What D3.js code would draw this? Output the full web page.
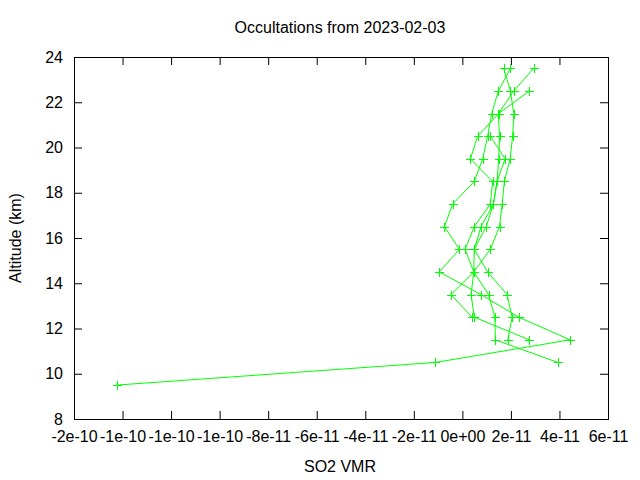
<!DOCTYPE html>
<html lang="en">
<head>
<meta charset="UTF-8">
<title>Occultations</title>
<style>
  body { margin: 0; background: #fff; }
  svg text { font-family: "Liberation Sans", Arial, sans-serif; font-size: 16px; fill: #000; }
</style>
</head>
<body>
<div id="chart"></div>
<script src="https://d3js.org/d3.v7.min.js"></script>
<script>
// altitude levels (km) shared by all profiles
const altitudes = [9.5, 10.5, 11.5, 12.5, 13.5, 14.5, 15.5, 16.5, 17.5, 18.5, 19.5, 20.5, 21.5, 22.5, 23.5];

// SO2 VMR per occultation, null where the profile has no point
const profile1 = [-14.23e-11, -1.11e-11, 4.44e-11, 2.32e-11, 0.77e-11, -0.95e-11, -0.12e-11, -0.74e-11, -0.40e-11, 0.49e-11, 0.84e-11, 1.04e-11, 1.21e-11, 1.48e-11, 1.98e-11];
const profile2 = [null, 3.93e-11, 1.36e-11, 1.34e-11, 1.08e-11, 0.47e-11, 0.11e-11, 0.49e-11, 1.15e-11, 1.25e-11, 0.33e-11, 0.63e-11, 1.50e-11, 2.76e-11, null];
const profile3 = [null, null, null, 0.40e-11, -0.47e-11, 0.47e-11, 0.49e-11, 0.77e-11, 1.28e-11, 1.43e-11, 1.76e-11, 1.15e-11, null, null, null];
const profile4 = [null, null, 2.76e-11, 0.49e-11, 0.36e-11, 0.47e-11, 1.15e-11, 1.53e-11, 1.64e-11, 1.73e-11, 1.97e-11, 2.07e-11, 2.12e-11, 1.98e-11, 1.70e-11];
const profile5 = [null, null, 1.87e-11, 2.05e-11, 1.84e-11, 1.04e-11, 0.49e-11, 0.98e-11, 1.28e-11, 1.43e-11, 1.50e-11, 1.53e-11, 1.48e-11, 2.12e-11, 2.94e-11];
const profiles = [profile1, profile2, profile3, profile4, profile5];

// axes
const xTicks = [-16e-11, -14e-11, -12e-11, -10e-11, -8e-11, -6e-11, -4e-11, -2e-11, 0, 2e-11, 4e-11, 6e-11];
const xTickLabels = ["-2e-10", "-1e-10", "-1e-10", "-1e-10", "-8e-11", "-6e-11", "-4e-11", "-2e-11", "0e+00", "2e-11", "4e-11", "6e-11"];
const yTicks = [8, 10, 12, 14, 16, 18, 20, 22, 24];

const w = 640, h = 480;
const plotLeft = 74, plotRight = 608, plotTop = 57, plotBottom = 419;
const lineColor = "#00ff00";

const svg = d3.select("#chart").append("svg")
  .attr("width", w)
  .attr("height", h);

const xScale = d3.scaleLinear().domain([-16e-11, 6e-11]).range([plotLeft, plotRight]);
const yScale = d3.scaleLinear().domain([8, 24]).range([plotBottom, plotTop]);

// bottom axis with labels, ticks pointing in
const xAxis = d3.axisBottom(xScale)
  .tickValues(xTicks)
  .tickFormat((d, i) => xTickLabels[i])
  .tickSizeInner(-8).tickSizeOuter(0).tickPadding(12);
svg.append("g").attr("transform", "translate(0," + plotBottom + ")").call(xAxis);

// mirrored ticks on top
svg.append("g").attr("transform", "translate(0," + plotTop + ")")
  .call(d3.axisTop(xScale).tickValues(xTicks).tickFormat("").tickSizeInner(-8).tickSizeOuter(0));

const yAxis = d3.axisLeft(yScale)
  .tickValues(yTicks)
  .tickSizeInner(-8).tickSizeOuter(0).tickPadding(11);
svg.append("g").attr("transform", "translate(" + plotLeft + ",0)").call(yAxis);

svg.append("g").attr("transform", "translate(" + plotRight + ",0)")
  .call(d3.axisRight(yScale).tickValues(yTicks).tickFormat("").tickSizeInner(-8).tickSizeOuter(0));

svg.selectAll(".domain").remove();
svg.selectAll(".tick line").attr("stroke", "#000");
svg.selectAll(".tick text").style("font-size", "16px").style("font-family", "'Liberation Sans', Arial, sans-serif");

// border
svg.append("rect")
  .attr("x", plotLeft + 0.5).attr("y", plotTop + 0.5)
  .attr("width", plotRight - plotLeft).attr("height", plotBottom - plotTop)
  .attr("fill", "none").attr("stroke", "#000");

// profiles
const line = d3.line()
  .defined((d) => d.v !== null)
  .x((d) => xScale(d.v))
  .y((d) => yScale(d.alt));

profiles.forEach((p) => {
  const pts = p.map((v, i) => ({ v: v, alt: altitudes[i] }));
  svg.append("path")
    .datum(pts)
    .attr("d", line)
    .attr("fill", "none")
    .attr("stroke", lineColor)
    .attr("stroke-width", 1);

  // "+" point markers
  svg.append("g").selectAll("path")
    .data(pts.filter((d) => d.v !== null))
    .enter()
    .append("path")
    .attr("d", (d) => {
      const x = Math.round(xScale(d.v)) + 0.5, y = Math.round(yScale(d.alt)) + 0.5;
      return "M" + (x - 4.5) + "," + y + "H" + (x + 4.5) + "M" + x + "," + (y - 4.5) + "V" + (y + 4.5);
    })
    .attr("stroke", lineColor)
    .attr("stroke-width", 1);
});

// titles
svg.append("text")
  .attr("x", 340).attr("y", 33)
  .attr("text-anchor", "middle")
  .text("Occultations from 2023-02-03");

svg.append("text")
  .attr("x", 340).attr("y", 472)
  .attr("text-anchor", "middle")
  .text("SO2 VMR");

svg.append("text")
  .attr("transform", "translate(21,238) rotate(-90)")
  .attr("text-anchor", "middle")
  .text("Altitude (km)");
</script>
</body>
</html>
